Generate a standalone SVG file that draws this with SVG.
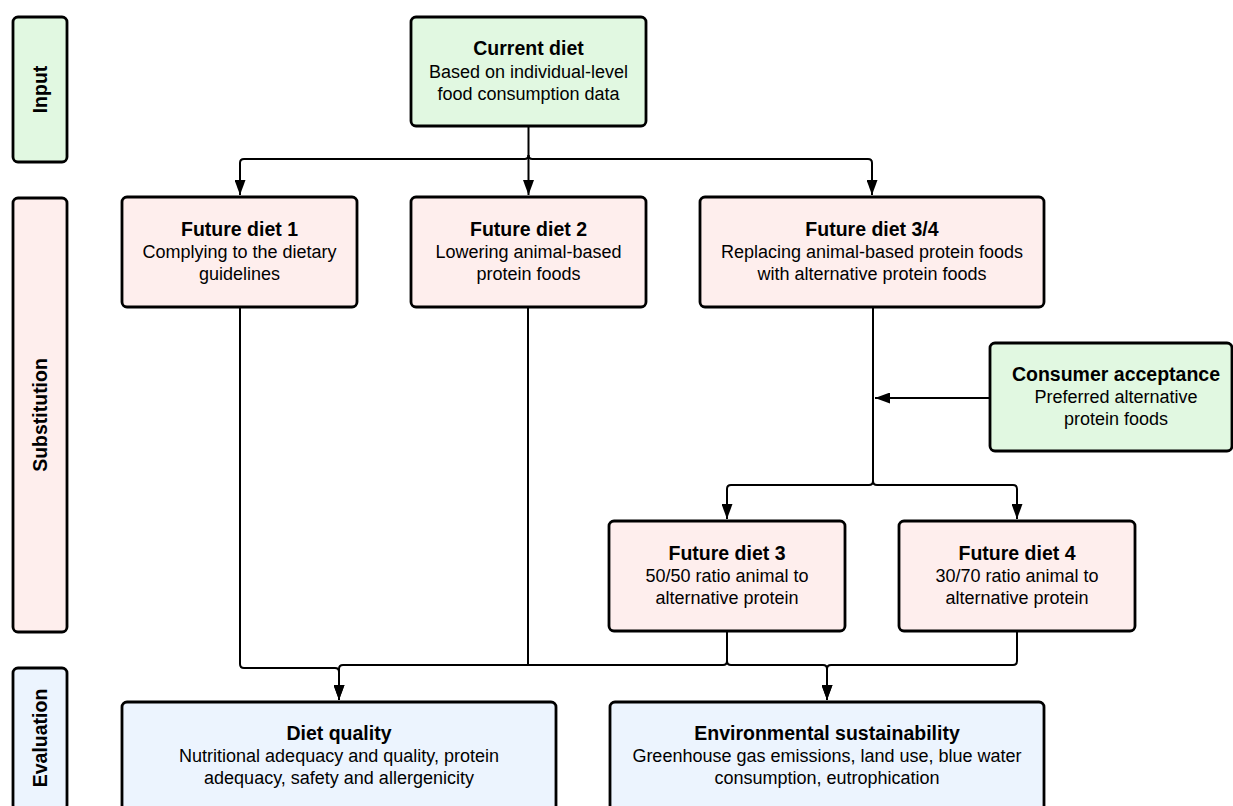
<svg xmlns="http://www.w3.org/2000/svg" width="1233" height="806" viewBox="0 0 1233 806">
<style>
.box{stroke:#000;stroke-width:2.8}
.g{fill:#e1f8e1}
.p{fill:#feeeed}
.b{fill:#ecf4fe}
text{font-family:"Liberation Sans",Arial,sans-serif;fill:#000;text-anchor:middle}
.t{font-size:19.5px;font-weight:bold}
.s{font-size:18px}
.side{font-size:19.5px;font-weight:bold}
.c{fill:none;stroke:#000;stroke-width:2}
</style>
<defs>
<marker id="ah" markerUnits="userSpaceOnUse" markerWidth="16" markerHeight="11" refX="15" refY="5.5" orient="auto">
<path d="M0,0 L15,5.5 L0,11 z" fill="#000"/>
</marker>
</defs>
<rect width="1233" height="806" fill="#fff"/>

<g id="side-input">
<rect class="box g" x="13" y="17" width="54" height="145" rx="5"/>
<text class="side" transform="translate(47,89.5) rotate(-90)">Input</text>
</g>
<g id="side-substitution">
<rect class="box p" x="13" y="198" width="54" height="434" rx="5"/>
<text class="side" transform="translate(47,415) rotate(-90)">Substitution</text>
</g>
<g id="side-evaluation">
<rect class="box b" x="13" y="668" width="54" height="142" rx="5"/>
<text class="side" transform="translate(47,738) rotate(-90)">Evaluation</text>
</g>

<g id="connectors">
<path class="c" d="M528.5,126 V195" marker-end="url(#ah)"/>
<path class="c" d="M528.5,155 q0,4 -4,4 H244 q-4,0 -4,4 V195" marker-end="url(#ah)"/>
<path class="c" d="M528.5,155 q0,4 4,4 H868 q4,0 4,4 V195" marker-end="url(#ah)"/>
<path class="c" d="M873,307 V481 q0,4 -4,4 H731 q-4,0 -4,4 V519" marker-end="url(#ah)"/>
<path class="c" d="M873,481 q0,4 4,4 H1013 q4,0 4,4 V519" marker-end="url(#ah)"/>
<path class="c" d="M990,398 H875" marker-end="url(#ah)"/>
<path class="c" d="M240,307 V664 q0,4 4,4 H335 q4,0 4,4 V700" marker-end="url(#ah)"/>
<path class="c" d="M528,307 V665"/>
<path class="c" d="M727,631 V661 q0,4 -4,4 H343 q-4,0 -4,4 V700" marker-end="url(#ah)"/>
<path class="c" d="M727,661 q0,4 4,4 H823 q4,0 4,4 V700" marker-end="url(#ah)"/>
<path class="c" d="M1017,631 V661 q0,4 -4,4 H831 q-4,0 -4,4 V700" marker-end="url(#ah)"/>
</g>

<g id="current-diet">
<rect class="box g" x="411" y="17" width="235" height="109" rx="5"/>
<text class="t" x="528.5" y="55">Current diet</text>
<text class="s" x="528.5" y="77.5">Based on individual-level</text>
<text class="s" x="528.5" y="99.5">food consumption data</text>
</g>

<g id="future-diet-1">
<rect class="box p" x="122" y="197" width="235" height="110" rx="5"/>
<text class="t" x="239.5" y="235.5">Future diet 1</text>
<text class="s" x="239.5" y="258">Complying to the dietary</text>
<text class="s" x="239.5" y="280">guidelines</text>
</g>

<g id="future-diet-2">
<rect class="box p" x="411" y="197" width="235" height="110" rx="5"/>
<text class="t" x="528.5" y="235.5">Future diet 2</text>
<text class="s" x="528.5" y="258">Lowering animal-based</text>
<text class="s" x="528.5" y="280">protein foods</text>
</g>

<g id="future-diet-34">
<rect class="box p" x="700" y="197" width="344" height="110" rx="5"/>
<text class="t" x="872" y="235.5">Future diet 3/4</text>
<text class="s" x="872" y="258">Replacing animal-based protein foods</text>
<text class="s" x="872" y="280">with alternative protein foods</text>
</g>

<g id="consumer-acceptance">
<rect class="box g" x="990" y="343" width="242" height="108" rx="5"/>
<text class="t" x="1116" y="381">Consumer acceptance</text>
<text class="s" x="1116" y="403">Preferred alternative</text>
<text class="s" x="1116" y="425">protein foods</text>
</g>

<g id="future-diet-3">
<rect class="box p" x="609" y="521" width="236" height="110" rx="5"/>
<text class="t" x="727" y="559.5">Future diet 3</text>
<text class="s" x="727" y="582">50/50 ratio animal to</text>
<text class="s" x="727" y="604">alternative protein</text>
</g>

<g id="future-diet-4">
<rect class="box p" x="899" y="521" width="236" height="110" rx="5"/>
<text class="t" x="1017" y="559.5">Future diet 4</text>
<text class="s" x="1017" y="582">30/70 ratio animal to</text>
<text class="s" x="1017" y="604">alternative protein</text>
</g>

<g id="diet-quality">
<rect class="box b" x="122" y="702" width="434" height="112" rx="5"/>
<text class="t" x="339" y="740">Diet quality</text>
<text class="s" x="339" y="762">Nutritional adequacy and quality, protein</text>
<text class="s" x="339" y="784">adequacy, safety and allergenicity</text>
</g>

<g id="environmental-sustainability">
<rect class="box b" x="610" y="702" width="434" height="112" rx="5"/>
<text class="t" x="827" y="740">Environmental sustainability</text>
<text class="s" x="827" y="762">Greenhouse gas emissions, land use, blue water</text>
<text class="s" x="827" y="784">consumption, eutrophication</text>
</g>
</svg>
